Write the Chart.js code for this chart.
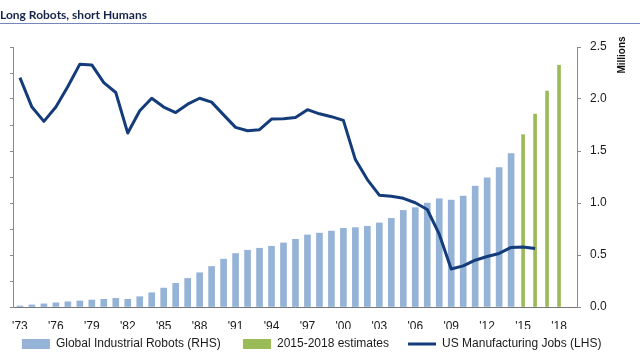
<!DOCTYPE html>
<html>
<head>
<meta charset="utf-8">
<script src="https://cdn.jsdelivr.net/npm/chart.js@4.4.1/dist/chart.umd.min.js"></script>
<style>
  html, body { margin: 0; padding: 0; background: #fff; }
</style>
</head>
<body>
<canvas id="robotChart" width="640" height="360"></canvas>
<script>
// x axis: one slot per year, plus an empty slot after 2018 like the original
const years = [1973, 1974, 1975, 1976, 1977, 1978, 1979, 1980, 1981, 1982,
  1983, 1984, 1985, 1986, 1987, 1988, 1989, 1990, 1991, 1992,
  1993, 1994, 1995, 1996, 1997, 1998, 1999, 2000, 2001, 2002,
  2003, 2004, 2005, 2006, 2007, 2008, 2009, 2010, 2011, 2012,
  2013, 2014, 2015, 2016, 2017, 2018, 2019];

// global industrial robots, millions (RHS), 1973-2014
const robotStock = [0.01, 0.02, 0.03, 0.04, 0.05, 0.058, 0.067, 0.074, 0.083, 0.074,
  0.099, 0.137, 0.182, 0.227, 0.275, 0.329, 0.39, 0.46, 0.514, 0.546,
  0.565, 0.584, 0.616, 0.651, 0.693, 0.71, 0.73, 0.757, 0.763, 0.776,
  0.808, 0.852, 0.929, 0.955, 0.999, 1.041, 1.028, 1.066, 1.162, 1.242,
  1.341, 1.475];

// estimates, millions (RHS), 2015-2018
const robotEstimate = [1.657, 1.855, 2.076, 2.325];

// US manufacturing jobs, millions (LHS), 1973-2016
const usJobs = [19.82, 18.69, 18.14, 18.69, 19.48, 20.34, 20.31, 19.63, 19.25, 17.69,
  18.55, 19.03, 18.69, 18.48, 18.80, 19.03, 18.88, 18.39, 17.91, 17.78,
  17.82, 18.23, 18.24, 18.29, 18.59, 18.43, 18.32, 18.18, 16.67, 15.90,
  15.30, 15.26, 15.18, 15.01, 14.75, 13.80, 12.46, 12.58, 12.80, 12.94,
  13.06, 13.29, 13.31, 13.25];

const rhsTicks = [0, 0.5, 1.0, 1.5, 2.0, 2.5];

// pad each series out to the full year list
const pad = (arr, start) => years.map((y, i) => {
  const j = i - start;
  return j >= 0 && j < arr.length ? arr[j] : null;
});
const blueData = pad(robotStock, 0);
const greenData = pad(robotEstimate, years.indexOf(2015));
const lineData = pad(usJobs, 0);

const sans = "'Liberation Sans', Arial, sans-serif";
Chart.defaults.font.family = sans;
Chart.defaults.font.size = 12;
Chart.defaults.color = '#1a1a1a';

// rule under the heading + rotated "Millions" label
const extras = {
  id: 'extras',
  afterDraw(chart) {
    const ctx = chart.ctx;
    ctx.save();
    ctx.strokeStyle = '#7388b9';
    ctx.lineWidth = 1;
    ctx.beginPath();
    ctx.moveTo(0, 23.5);
    ctx.lineTo(chart.width, 23.5);
    ctx.stroke();
    ctx.translate(chart.scales.y1.right - 18, chart.chartArea.top + 8);
    ctx.rotate(-Math.PI / 2);
    ctx.font = 'bold 10px ' + sans;
    ctx.fillStyle = '#111';
    ctx.textAlign = 'center';
    ctx.textBaseline = 'middle';
    ctx.fillText('Millions', 0, 0);
    ctx.restore();
  }
};

const axisGrey = '#8a8a8a';

new Chart(document.getElementById('robotChart'), {
  type: 'bar',
  data: {
    labels: years,
    datasets: [
      {
        label: 'Global Industrial Robots (RHS)    ',
        data: blueData,
        backgroundColor: '#95b3d7',
        yAxisID: 'y1',
        barThickness: 6,
        grouped: false,
        pointStyle: 'rect',
      },
      {
        label: '2015-2018 estimates   ',
        data: greenData,
        backgroundColor: '#9bbb59',
        yAxisID: 'y1',
        barThickness: 3,
        grouped: false,
        pointStyle: 'rect',
      },
      {
        type: 'line',
        label: 'US Manufacturing Jobs (LHS)     ',
        data: lineData,
        borderColor: '#143c7a',
        backgroundColor: '#143c7a',
        borderWidth: 3,
        pointRadius: 0,
        tension: 0,
        borderJoinStyle: 'round',
        yAxisID: 'y',
        pointStyle: 'line',
        order: -1, // draw line over the bars
      },
    ],
  },
  options: {
    responsive: false,
    animation: false,
    layout: { padding: 0 },
    scales: {
      x: {
        offset: true,
        grid: { display: true, drawOnChartArea: false, drawTicks: false },
        border: { color: '#777' },
        ticks: {
          autoSkip: false,
          maxRotation: 0,
          padding: 12,
          callback: (val, i) => (i % 3 === 0 ? "'" + String(years[i]).slice(2) : ''),
        },
        afterFit: (s) => { s.height = 22; },
      },
      y: {
        position: 'left',
        min: 11,
        max: 21,
        ticks: { display: false, stepSize: 1 },
        grid: { drawOnChartArea: false, tickLength: 4, color: axisGrey },
        border: { color: axisGrey },
        afterFit: (s) => { s.width = 11; },
      },
      y1: {
        position: 'right',
        min: 0,
        max: 2.5,
        afterBuildTicks: (s) => { s.ticks = rhsTicks.map((v) => ({ value: v })); },
        ticks: { padding: 9, callback: (v) => Number(v).toFixed(1) },
        grid: { drawOnChartArea: false, tickLength: 4, color: axisGrey },
        border: { color: axisGrey },
        afterFit: (s) => { s.width = 63; },
      },
    },
    plugins: {
      title: {
        display: true,
        text: 'Long Robots, short Humans',
        align: 'start',
        color: '#15254a',
        font: { family: 'Lato', weight: 'bold', size: 12 },
        padding: { top: 8, bottom: 24.6 },
      },
      legend: {
        position: 'bottom',
        labels: {
          usePointStyle: true,
          pointStyleWidth: 28,
          boxHeight: 10,
          padding: 9,
          sort: (a, b) => a.datasetIndex - b.datasetIndex,
        },
      },
      tooltip: { enabled: false },
    },
  },
  plugins: [extras],
});
</script>
</body>
</html>
